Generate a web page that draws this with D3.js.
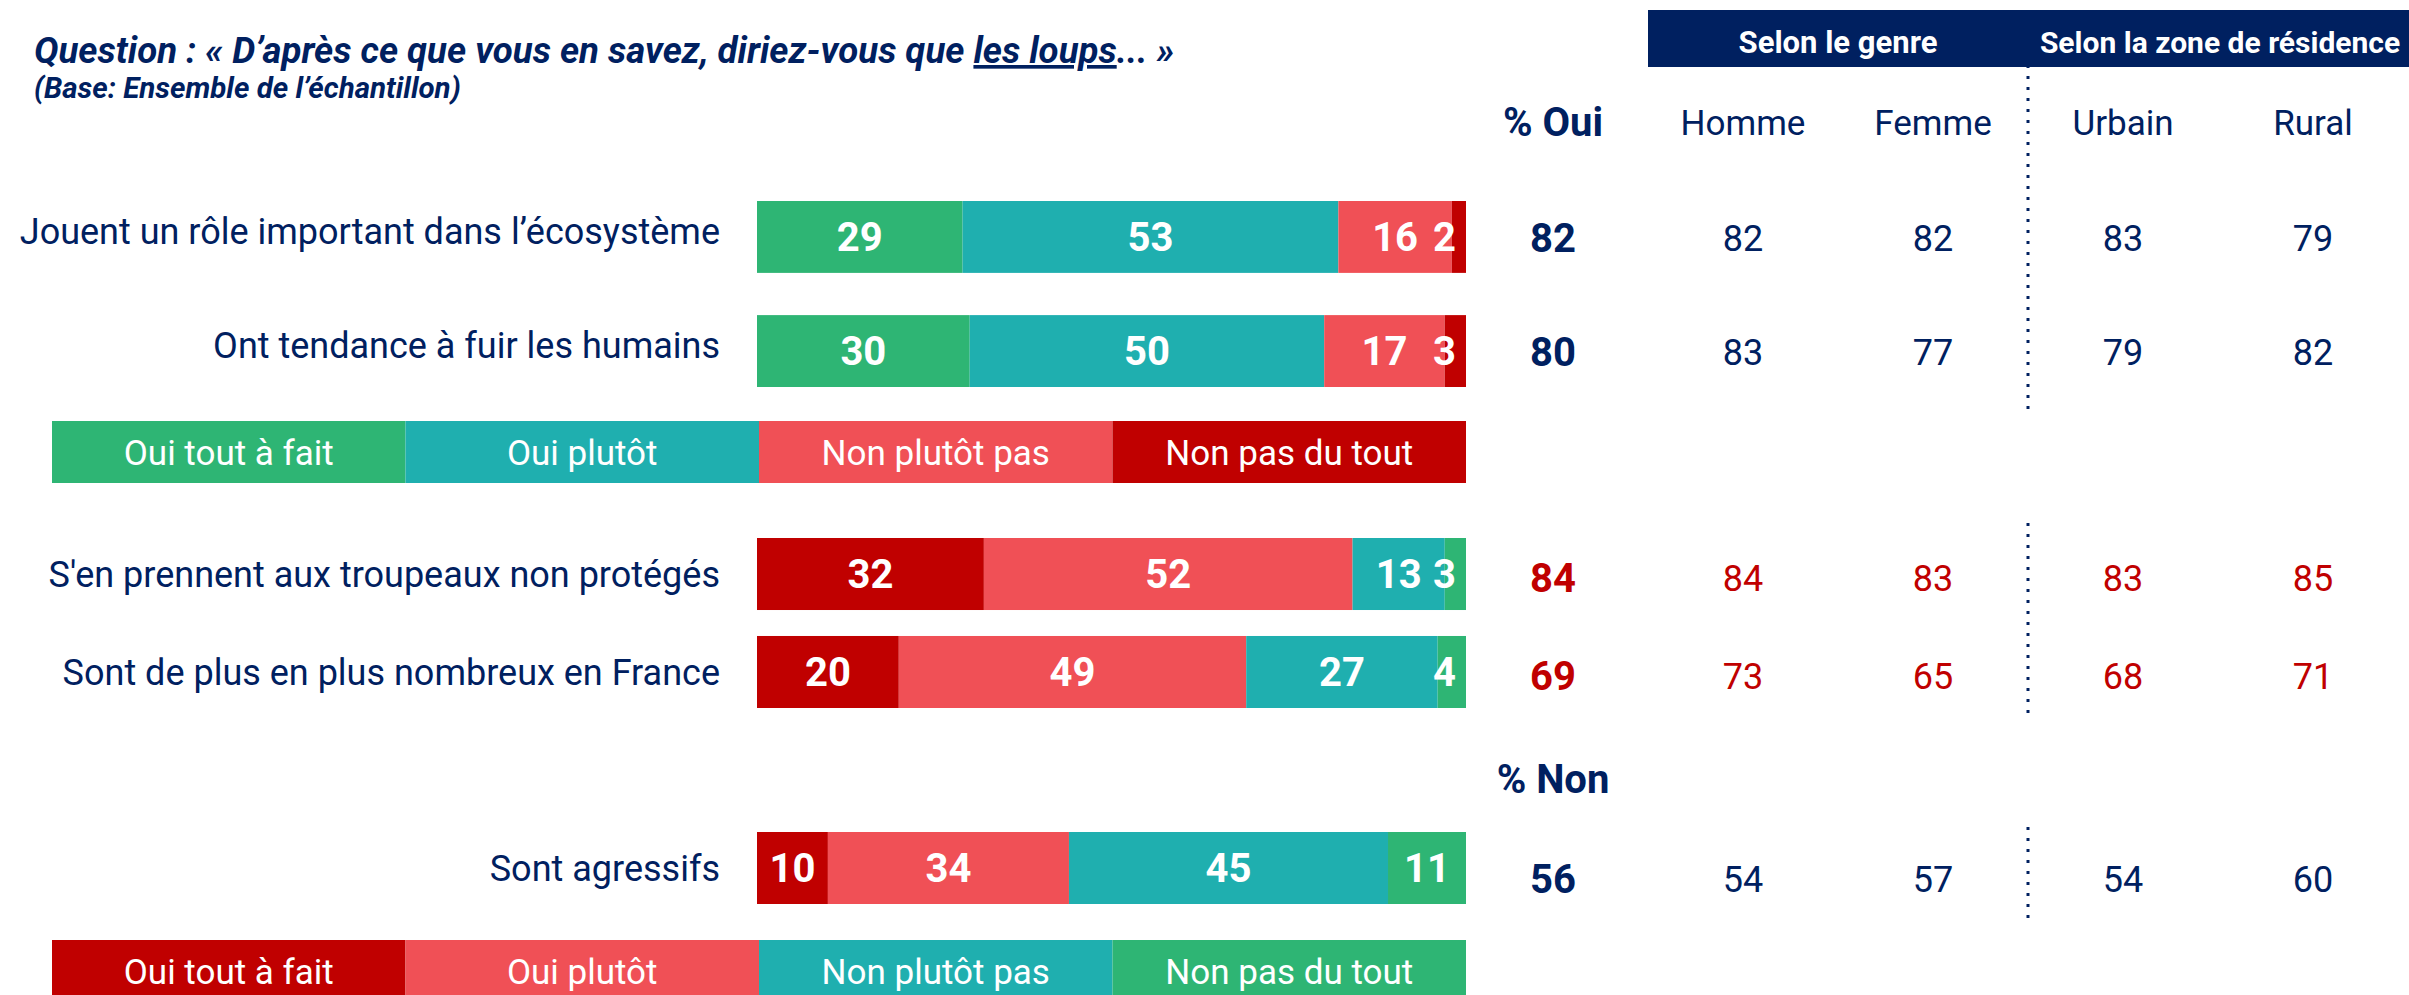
<!DOCTYPE html>
<html>
<head>
<meta charset="utf-8">
<script src="https://cdn.jsdelivr.net/npm/d3@7/dist/d3.min.js"></script>
<style>
  body { margin: 0; background: white; }
  text { font-family: Roboto, "Noto Sans", sans-serif; }
</style>
</head>
<body>
<svg width="2409" height="995"></svg>
<script>
// data
const categories = [
  "Jouent un rôle important dans l’écosystème",
  "Ont tendance à fuir les humains",
  "S'en prennent aux troupeaux non protégés",
  "Sont de plus en plus nombreux en France",
  "Sont agressifs"
]
const answers = ["Oui tout à fait", "Oui plutôt", "Non plutôt pas", "Non pas du tout"]
const toutAFait = [29, 30, 32, 20, 10]
const plutot    = [53, 50, 52, 49, 34]
const plutotPas = [16, 17, 13, 27, 45]
const pasDuTout = [2, 3, 3, 4, 11]
const pctTotal  = [82, 80, 84, 69, 56]
const homme     = [82, 83, 84, 73, 54]
const femme     = [82, 77, 83, 65, 57]
const urbain    = [83, 79, 83, 68, 54]
const rural     = [79, 82, 85, 71, 60]
const subgroups = ["Homme", "Femme", "Urbain", "Rural"]
const groupHeaders = ["Selon le genre", "Selon la zone de résidence"]
const rowBlock = [0, 0, 1, 1, 2]          // which block each row sits in
const rowPalette = ["oui", "oui", "non", "non", "non"]
const rowRed = [false, false, true, true, false]
const totalHeaders = ["% Oui", "% Non"]

const svg = d3.select('svg')
const width = +svg.attr('width')
const height = +svg.attr('height')

const navy = '#002060'
const green = '#2eb574', teal = '#1fafaf', salmon = '#f05056', darkRed = '#c00000'
const palettes = {
  oui: d3.scaleOrdinal().domain(answers).range([green, teal, salmon, darkRed]),
  non: d3.scaleOrdinal().domain(answers).range([darkRed, salmon, teal, green])
}

const table = categories.map((c, i) => ({
  cat: c, block: rowBlock[i], palette: rowPalette[i], red: rowRed[i],
  [answers[0]]: toutAFait[i], [answers[1]]: plutot[i],
  [answers[2]]: plutotPas[i], [answers[3]]: pasDuTout[i],
  total: pctTotal[i], Homme: homme[i], Femme: femme[i], Urbain: urbain[i], Rural: rural[i]
}))

// layout
const xScale = d3.scaleLinear().domain([0, 100]).range([757, 1466])
const labelX = 720
const blocks = [
  {range: [201, 387], pad: 0.37, shift: 1},
  {range: [538, 708], pad: 0.265, shift: 4},
  {range: [832, 904], pad: 0, shift: 11}
]
blocks.forEach((b, k) => {
  b.scale = d3.scaleBand()
    .domain(table.filter(d => d.block === k).map(d => d.cat))
    .range(b.range)
    .paddingInner(b.pad)
})
const yTop = d => blocks[d.block].scale(d.cat)
const bw = d => blocks[d.block].scale.bandwidth()
const yMid = d => yTop(d) + bw(d) / 2

const colScale = d3.scalePoint()
  .domain(['total'].concat(subgroups))
  .range([1553, 2313])
const colStep = colScale.step()

// title
const title = svg.append('text')
  .attr('x', 34).attr('y', 63)
  .attr('fill', navy)
  .style('font-size', '36.6px').style('font-weight', 700).style('font-style', 'italic')
title.append('tspan').text('Question : « D’après ce que vous en savez, diriez-vous que ')
title.append('tspan').text('les loups').style('text-decoration', 'underline')
title.append('tspan').text('... »')

svg.append('text')
  .attr('x', 34).attr('y', 98)
  .attr('fill', navy)
  .style('font-size', '29.5px').style('font-weight', 700).style('font-style', 'italic')
  .text('(Base: Ensemble de l’échantillon)')

// header band
const boxX0 = colScale('total') + colStep / 2
svg.append('rect')
  .attr('x', boxX0).attr('y', 10)
  .attr('width', width - boxX0).attr('height', 57)
  .attr('fill', navy)

const splitX = (colScale('Femme') + colScale('Urbain')) / 2
svg.selectAll('.grp')
  .data(groupHeaders)
  .enter().append('text')
  .attr('x', (d, i) => i === 0 ? (colScale('Homme') + colScale('Femme')) / 2 : (colScale('Urbain') + colScale('Rural')) / 2 + 2)
  .attr('y', 53)
  .attr('text-anchor', 'middle')
  .attr('fill', 'white')
  .style('font-size', (d, i) => i === 0 ? '31px' : '30px')
  .style('font-weight', 700)
  .text(d => d)

// dotted separators
const dotted = [[10, 412], [523, 718], [827, 925]]
svg.selectAll('.sep')
  .data(dotted)
  .enter().append('line')
  .attr('x1', splitX).attr('x2', splitX)
  .attr('y1', d => d[0]).attr('y2', d => d[1])
  .attr('stroke', navy)
  .attr('stroke-width', 3)
  .attr('stroke-dasharray', '3,8')

// column headers
svg.append('text')
  .attr('x', colScale('total')).attr('y', 136)
  .attr('text-anchor', 'middle').attr('fill', navy)
  .style('font-size', '40px').style('font-weight', 700)
  .text(totalHeaders[0])

svg.append('text')
  .attr('x', colScale('total')).attr('y', 793)
  .attr('text-anchor', 'middle').attr('fill', navy)
  .style('font-size', '40px').style('font-weight', 700)
  .text(totalHeaders[1])

svg.selectAll('.colhead')
  .data(subgroups)
  .enter().append('text')
  .attr('x', d => colScale(d)).attr('y', 135)
  .attr('text-anchor', 'middle').attr('fill', navy)
  .style('font-size', '35px')
  .text(d => d)

// row labels
svg.selectAll('.rowlabel')
  .data(table)
  .enter().append('text')
  .attr('x', labelX)
  .attr('y', d => yMid(d) - (d.block === 0 ? 6 : 0))
  .attr('dy', '0.35em')
  .attr('text-anchor', 'end')
  .attr('fill', navy)
  .style('font-size', '36px')
  .text(d => d.cat)

// stacked bars
const series = d3.stack().keys(answers)(table)
const segs = series.flatMap(s => s.map(p => ({key: s.key, x0: p[0], x1: p[1], row: p.data})))

svg.selectAll('.seg')
  .data(segs)
  .enter().append('rect')
  .attr('x', d => xScale(d.x0))
  .attr('y', d => yTop(d.row))
  .attr('width', d => xScale(d.x1) - xScale(d.x0))
  .attr('height', d => bw(d.row))
  .attr('fill', d => palettes[d.row.palette](d.key))

svg.selectAll('.seglabel')
  .data(segs)
  .enter().append('text')
  .attr('x', d => (d.x1 - d.x0) < 5 ? xScale(d.x1) - 10 : xScale((d.x0 + d.x1) / 2))
  .attr('y', d => yMid(d.row))
  .attr('dy', '0.36em')
  .attr('text-anchor', d => (d.x1 - d.x0) < 5 ? 'end' : 'middle')
  .attr('fill', 'white')
  .style('font-size', '40px').style('font-weight', 700)
  .text(d => d.x1 - d.x0)

// right-hand table
const cells = table.flatMap(d => ['total'].concat(subgroups).map(k => ({k, v: d[k], row: d})))
svg.selectAll('.cell')
  .data(cells)
  .enter().append('text')
  .attr('x', d => colScale(d.k))
  .attr('y', d => yMid(d.row) + blocks[d.row.block].shift)
  .attr('dy', '0.36em')
  .attr('text-anchor', 'middle')
  .attr('fill', d => d.row.red ? darkRed : navy)
  .style('font-size', d => d.k === 'total' ? '40px' : '36px')
  .style('font-weight', d => d.k === 'total' ? 700 : 400)
  .text(d => d.v)

// legends
const legendX = d3.scaleBand().domain(answers).range([52, 1466])
const legends = [{y: 421, palette: 'oui'}, {y: 940, palette: 'non'}]
legends.forEach(l => {
  const g = svg.append('g').attr('transform', `translate(0,${l.y})`)
  g.selectAll('rect')
    .data(answers)
    .enter().append('rect')
    .attr('x', d => legendX(d))
    .attr('width', legendX.bandwidth())
    .attr('height', 62)
    .attr('fill', d => palettes[l.palette](d))
  g.selectAll('text')
    .data(answers)
    .enter().append('text')
    .attr('x', d => legendX(d) + legendX.bandwidth() / 2)
    .attr('y', 31)
    .attr('dy', '0.36em')
    .attr('text-anchor', 'middle')
    .attr('fill', 'white')
    .style('font-size', '35px')
    .text(d => d)
})
</script>
</body>
</html>
